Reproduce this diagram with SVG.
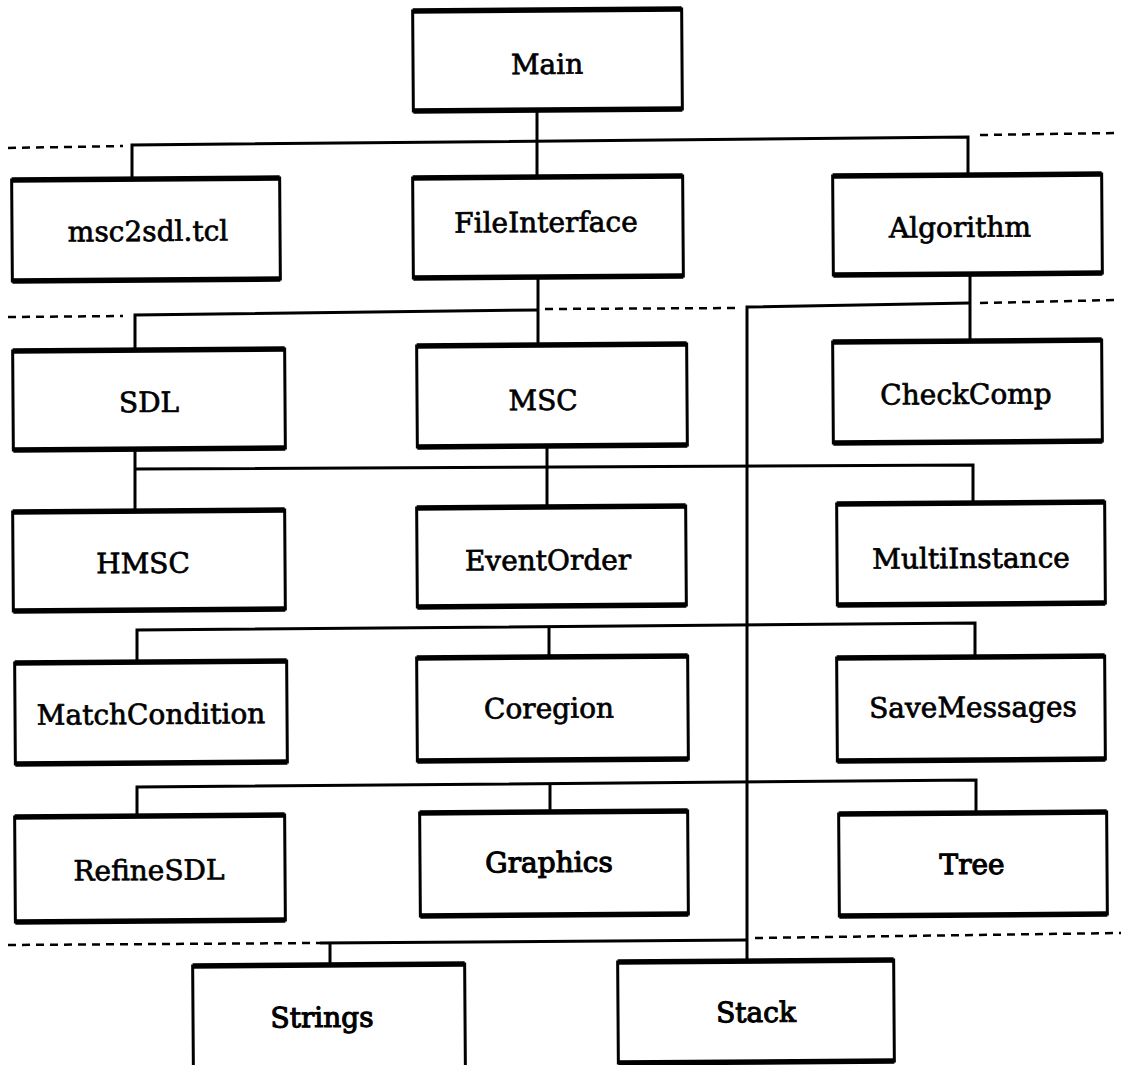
<svg xmlns="http://www.w3.org/2000/svg" width="1121" height="1065" viewBox="0 0 1121 1065">
  <style>
    .box { fill: #fff; stroke: #000; stroke-width: 3; }
    .rim { fill: none; stroke: #000; stroke-width: 5.5; }
    .lbl { font-family: "DejaVu Serif", "Liberation Serif", serif; font-size: 28px; text-anchor: middle; fill: #000; stroke: #000; stroke-width: 0.7; }
    .heavy { stroke-width: 1.1; }
    .wire { fill: none; stroke: #000; stroke-width: 3; stroke-linejoin: miter; }
    .sep { fill: none; stroke: #000; stroke-width: 2.5; stroke-dasharray: 8 6; }
  </style>
  <rect width="1121" height="1065" fill="#fff"/>

  <!-- module dependency connectors and layer separators -->
  <g id="connectors">
    <path class="wire" d="M537 110 V177"/>
    <path class="wire" d="M132 179 V145 L968 137 V175"/>
    <path class="wire" d="M538 277 V345"/>
    <path class="wire" d="M135 350 V315 L538 310"/>
    <path class="wire" d="M970 274 V341"/>
    <path class="wire" d="M970 303 L747 307 V961"/>
    <path class="wire" d="M135 449 V511"/>
    <path class="wire" d="M135 469 L973 465 V503"/>
    <path class="wire" d="M547 446 V507"/>
    <path class="wire" d="M137 662 V630 L975 623 V657"/>
    <path class="wire" d="M549 626.6 V657"/>
    <path class="wire" d="M137 816 V787 L976 780 V813"/>
    <path class="wire" d="M550 783.6 V812"/>
    <path class="wire" d="M320 943 L747 940"/>
    <path class="wire" d="M330 943 V965"/>

    <path class="sep" d="M8 148 L123 146"/>
    <path class="sep" d="M980 135 L1115 133"/>
    <path class="sep" d="M8 317 L123 316"/>
    <path class="sep" d="M545 309 L740 308"/>
    <path class="sep" d="M980 303 L1115 300"/>
    <path class="sep" d="M8 945 L320 943"/>
    <path class="sep" d="M755 938 L1121 933"/>
  </g>

  <g id="main" transform="rotate(-0.4 547 60)">
    <rect class="box" x="413" y="10" width="269" height="100"/>
    <path class="rim" d="M413 10 H682 M413 110 H682"/>
    <text class="lbl" x="547" y="74">Main</text>
  </g>

  <g id="msc2sdl" transform="rotate(-0.4 146 230)">
    <rect class="box" x="12" y="179" width="268" height="101"/>
    <path class="rim" d="M12 179 H280 M12 280 H280"/>
    <text class="lbl" x="148" y="241">msc2sdl.tcl</text>
  </g>

  <g id="fileinterface" transform="rotate(-0.4 548 227)">
    <rect class="box" x="413" y="177" width="270" height="100"/>
    <path class="rim" d="M413 177 H683 M413 277 H683"/>
    <text class="lbl" x="546" y="232">FileInterface</text>
  </g>

  <g id="algorithm" transform="rotate(-0.4 967 225)">
    <rect class="box" x="833" y="175" width="269" height="99"/>
    <path class="rim" d="M833 175 H1102 M833 274 H1102"/>
    <text class="lbl" x="960" y="237">Algorithm</text>
  </g>

  <g id="sdl" transform="rotate(-0.4 149 400)">
    <rect class="box" x="13" y="350" width="272" height="99"/>
    <path class="rim" d="M13 350 H285 M13 449 H285"/>
    <text class="lbl" x="149" y="412">SDL</text>
  </g>

  <g id="msc" transform="rotate(-0.4 552 396)">
    <rect class="box" x="417" y="345" width="270" height="101"/>
    <path class="rim" d="M417 345 H687 M417 446 H687"/>
    <text class="lbl" x="543" y="410">MSC</text>
  </g>

  <g id="checkcomp" transform="rotate(-0.4 967 392)">
    <rect class="box" x="833" y="341" width="269" height="101"/>
    <path class="rim" d="M833 341 H1102 M833 442 H1102"/>
    <text class="lbl" x="966" y="404">CheckComp</text>
  </g>

  <g id="hmsc" transform="rotate(-0.4 149 560)">
    <rect class="box" x="13" y="511" width="272" height="99"/>
    <path class="rim" d="M13 511 H285 M13 610 H285"/>
    <text class="lbl" x="143" y="573">HMSC</text>
  </g>

  <g id="eventorder" transform="rotate(-0.4 551 556)">
    <rect class="box" x="417" y="507" width="269" height="99"/>
    <path class="rim" d="M417 507 H686 M417 606 H686"/>
    <text class="lbl" x="548" y="570">EventOrder</text>
  </g>

  <g id="multiinstance" transform="rotate(-0.4 971 553)">
    <rect class="box" x="837" y="503" width="268" height="101"/>
    <path class="rim" d="M837 503 H1105 M837 604 H1105"/>
    <text class="lbl" x="971" y="568">MultiInstance</text>
  </g>

  <g id="matchcondition" transform="rotate(-0.4 151 712)">
    <rect class="box" x="15" y="662" width="272" height="101"/>
    <path class="rim" d="M15 662 H287 M15 763 H287"/>
    <text class="lbl" x="151" y="724">MatchCondition</text>
  </g>

  <g id="coregion" transform="rotate(-0.4 552 708)">
    <rect class="box" x="417" y="657" width="271" height="103"/>
    <path class="rim" d="M417 657 H688 M417 760 H688"/>
    <text class="lbl" x="549" y="718">Coregion</text>
  </g>

  <g id="savemessages" transform="rotate(-0.4 971 708)">
    <rect class="box" x="837" y="657" width="268" height="103"/>
    <path class="rim" d="M837 657 H1105 M837 760 H1105"/>
    <text class="lbl" x="973" y="717">SaveMessages</text>
  </g>

  <g id="refinesdl" transform="rotate(-0.4 150 868)">
    <rect class="box" x="15" y="816" width="270" height="105"/>
    <path class="rim" d="M15 816 H285 M15 921 H285"/>
    <text class="lbl" x="149" y="880">RefineSDL</text>
  </g>

  <g id="graphics" transform="rotate(-0.4 554 863)">
    <rect class="box" x="420" y="812" width="268" height="103"/>
    <path class="rim" d="M420 812 H688 M420 915 H688"/>
    <text class="lbl heavy" x="549" y="872">Graphics</text>
  </g>

  <g id="tree" transform="rotate(-0.4 973 864)">
    <rect class="box" x="839" y="813" width="268" height="102"/>
    <path class="rim" d="M839 813 H1107 M839 915 H1107"/>
    <text class="lbl heavy" x="972" y="874">Tree</text>
  </g>

  <g id="strings" transform="rotate(-0.4 329 1015)">
    <rect class="box" x="193" y="965" width="272" height="115"/>
    <path class="rim" d="M193 965 H465"/>
    <text class="lbl heavy" x="322" y="1027">Strings</text>
  </g>

  <g id="stack" transform="rotate(-0.4 756 1011)">
    <rect class="box" x="618" y="961" width="276" height="101"/>
    <path class="rim" d="M618 961 H894 M618 1062 H894"/>
    <text class="lbl heavy" x="756" y="1022">Stack</text>
  </g>
</svg>
